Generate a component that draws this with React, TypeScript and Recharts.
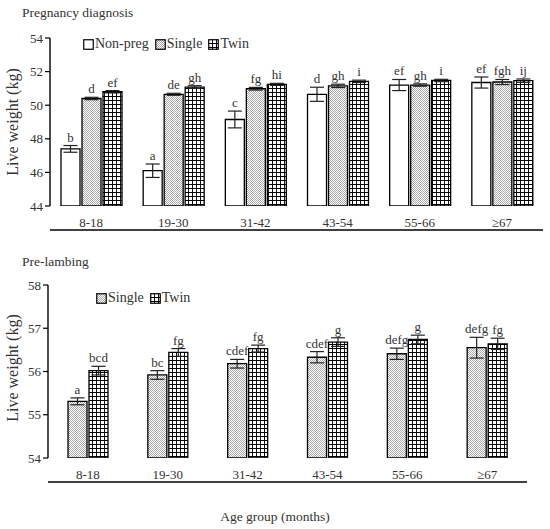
import React from "react";
import { BarChart, Bar, XAxis, YAxis, ErrorBar, LabelList } from "recharts";

// ─── Data ─────────────────────────────────────────────────────────────────────
const ageGroups = ["8-18", "19-30", "31-42", "43-54", "55-66", "≥67"];

// Pregnancy diagnosis
const pdNonPreg = [47.4, 46.1, 49.15, 50.65, 51.2, 51.35];
const pdNonPregSe = [0.2, 0.4, 0.5, 0.42, 0.33, 0.33];
const pdNonPregLetters = ["b", "a", "c", "d", "ef", "ef"];
const pdSingle = [50.4, 50.65, 50.98, 51.15, 51.2, 51.38];
const pdSingleSe = [0.07, 0.06, 0.08, 0.1, 0.07, 0.15];
const pdSingleLetters = ["d", "de", "fg", "gh", "gh", "fgh"];
const pdTwin = [50.8, 51.08, 51.24, 51.42, 51.47, 51.46];
const pdTwinSe = [0.07, 0.08, 0.06, 0.07, 0.07, 0.1];
const pdTwinLetters = ["ef", "gh", "hi", "i", "i", "ij"];
const pdTicks = [44, 46, 48, 50, 52, 54];

// Pre-lambing
const plSingle = [55.31, 55.92, 56.18, 56.33, 56.41, 56.55];
const plSingleSe = [0.08, 0.1, 0.1, 0.13, 0.13, 0.24];
const plSingleLetters = ["a", "bc", "cdef", "cdef", "defg", "defg"];
const plTwin = [56.02, 56.44, 56.53, 56.68, 56.74, 56.64];
const plTwinSe = [0.1, 0.09, 0.08, 0.1, 0.1, 0.13];
const plTwinLetters = ["bcd", "fg", "fg", "g", "g", "fg"];
const plTicks = [54, 55, 56, 57, 58];

const boundaryTicks = [0, 1, 2, 3, 4, 5, 6];

const FONT = "'Liberation Serif', 'Times New Roman', serif";
const TEXT = "#333";

const pdData = ageGroups.map((group, i) => ({
  group,
  nonPreg: pdNonPreg[i],
  nonPregSe: pdNonPregSe[i],
  nonPregLetter: pdNonPregLetters[i],
  single: pdSingle[i],
  singleSe: pdSingleSe[i],
  singleLetter: pdSingleLetters[i],
  twin: pdTwin[i],
  twinSe: pdTwinSe[i],
  twinLetter: pdTwinLetters[i],
}));

const plData = ageGroups.map((group, i) => ({
  group,
  single: plSingle[i],
  singleSe: plSingleSe[i],
  singleLetter: plSingleLetters[i],
  twin: plTwin[i],
  twinSe: plTwinSe[i],
  twinLetter: plTwinLetters[i],
}));

const FILLS: Record<string, string> = {
  nonPreg: "#fff",
  single: "url(#dots)",
  twin: "url(#grid)",
};

// letter sits just above the top of the error bar
function letterContent(values: number[], ses: number[], base: number) {
  return (props: any) => {
    const vb = props.viewBox || props;
    const { x, y, width, height } = vb;
    const i = props.index;
    if (x == null || i == null) return null;
    const pxPerUnit = height / (values[i] - base);
    const top = y - ses[i] * pxPerUnit;
    return (
      <text
        x={x + width / 2}
        y={top - 4}
        textAnchor="middle"
        fontSize={13}
        fontFamily={FONT}
        fill={TEXT}
      >
        {props.value}
      </text>
    );
  };
}

function Patterns() {
  return (
    <svg width={0} height={0} style={{ position: "absolute" }}>
      <defs>
        <pattern id="dots" width={2} height={2} patternUnits="userSpaceOnUse">
          <rect width={2} height={2} fill="#fff" />
          <rect x={0} y={0} width={1} height={1} fill="#a8a8a8" />
          <rect x={1} y={1} width={1} height={1} fill="#a8a8a8" />
        </pattern>
        <pattern id="grid" width={4} height={4} patternUnits="userSpaceOnUse">
          <rect width={4} height={4} fill="#fff" />
          <rect x={0} y={0} width={1} height={4} fill="#111" />
          <rect x={0} y={0} width={4} height={1} fill="#000" />
        </pattern>
      </defs>
    </svg>
  );
}

function LegendRow({ items }: { items: { key: string; label: string }[] }) {
  return (
    <div style={{ display: "flex", alignItems: "center", fontFamily: FONT, fontSize: 14, color: TEXT, lineHeight: "16px" }}>
      {items.map((it) => (
        <div key={it.key} style={{ display: "flex", alignItems: "center", marginRight: 6 }}>
          <svg width={11} height={11} style={{ marginRight: 1 }}>
            <rect x={0.75} y={0.75} width={9.5} height={9.5} fill={FILLS[it.key]} stroke="#000" strokeWidth={1.2} />
          </svg>
          <span>{it.label}</span>
        </div>
      ))}
    </div>
  );
}

type SeriesDef = { key: string; values: number[]; ses: number[] };

function Panel({
  data,
  series,
  domain,
  ticks,
  width,
  height,
  margin,
  yAxisWidth,
}: {
  data: any[];
  series: SeriesDef[];
  domain: [number, number];
  ticks: number[];
  width: number;
  height: number;
  margin: { top: number; right: number; bottom: number; left: number };
  yAxisWidth: number;
}) {
  return (
    <BarChart width={width} height={height} data={data} margin={margin} barSize={19} barGap={2}>
      <XAxis
        xAxisId="ticks"
        type="number"
        domain={[0, 6]}
        ticks={boundaryTicks}
        allowDataOverflow
        height={1}
        tick={false}
        tickSize={5}
        tickLine={{ stroke: "#000", strokeWidth: 1.2 }}
        axisLine={{ stroke: "#000", strokeWidth: 1.4 }}
      />
      <XAxis
        xAxisId="cat"
        dataKey="group"
        height={24}
        axisLine={false}
        tickLine={false}
        tick={{ fontSize: 13, fill: TEXT, fontFamily: FONT }}
        tickMargin={6}
        interval={0}
      />
      <YAxis
        width={yAxisWidth}
        domain={domain}
        ticks={ticks}
        allowDataOverflow
        tickSize={5}
        tick={{ fontSize: 13, fill: TEXT, fontFamily: FONT }}
        tickLine={{ stroke: "#000", strokeWidth: 1.2 }}
        axisLine={{ stroke: "#000", strokeWidth: 1.4 }}
      />
      {series.map((s) => (
        <Bar
          key={s.key}
          xAxisId="cat"
          dataKey={s.key}
          fill={FILLS[s.key]}
          stroke="#000"
          strokeWidth={1.3}
          isAnimationActive={false}
        >
          <ErrorBar dataKey={`${s.key}Se`} width={7} stroke="#222" strokeWidth={1.2} direction="y" />
          <LabelList dataKey={`${s.key}Letter`} content={letterContent(s.values, s.ses, domain[0])} />
        </Bar>
      ))}
    </BarChart>
  );
}

export default function App() {
  const yLabel: React.CSSProperties = {
    position: "absolute",
    fontFamily: FONT,
    fontSize: 16,
    color: TEXT,
    transform: "translate(-50%, -50%) rotate(-90deg)",
    whiteSpace: "nowrap",
  };
  return (
    <div style={{ position: "absolute", left: 0, top: 0, width: 550, height: 529, background: "#fff", overflow: "hidden" }}>
      <Patterns />

      {/* Pregnancy diagnosis */}
      <div style={{ position: "absolute", left: 0, top: 0 }}>
        <Panel
          data={pdData}
          series={[
            { key: "nonPreg", values: pdNonPreg, ses: pdNonPregSe },
            { key: "single", values: pdSingle, ses: pdSingleSe },
            { key: "twin", values: pdTwin, ses: pdTwinSe },
          ]}
          domain={[44, 54]}
          ticks={pdTicks}
          width={550}
          height={232}
          margin={{ top: 38, right: 7, bottom: 1, left: 0 }}
          yAxisWidth={50}
        />
      </div>
      <div style={{ position: "absolute", left: 22, top: 5, fontFamily: FONT, fontSize: 13.5, color: TEXT }}>
        Pregnancy diagnosis
      </div>
      <div style={{ position: "absolute", left: 83, top: 36 }}>
        <LegendRow
          items={[
            { key: "nonPreg", label: "Non-preg" },
            { key: "single", label: "Single" },
            { key: "twin", label: "Twin" },
          ]}
        />
      </div>
      <div style={{ ...yLabel, left: 13, top: 122 }}>Live weight (kg)</div>

      {/* Pre-lambing */}
      <div style={{ position: "absolute", left: 0, top: 240 }}>
        <Panel
          data={plData}
          series={[
            { key: "single", values: plSingle, ses: plSingleSe },
            { key: "twin", values: plTwin, ses: plTwinSe },
          ]}
          domain={[54, 58]}
          ticks={plTicks}
          width={550}
          height={250}
          margin={{ top: 45, right: 23, bottom: 7, left: 0 }}
          yAxisWidth={48}
        />
      </div>
      <div style={{ position: "absolute", left: 22, top: 254, fontFamily: FONT, fontSize: 13.5, color: TEXT }}>
        Pre-lambing
      </div>
      <div style={{ position: "absolute", left: 96, top: 290 }}>
        <LegendRow
          items={[
            { key: "single", label: "Single" },
            { key: "twin", label: "Twin" },
          ]}
        />
      </div>
      <div style={{ ...yLabel, left: 13, top: 368 }}>Live weight (kg)</div>

      <div
        style={{
          position: "absolute",
          left: 275,
          top: 517,
          transform: "translate(-50%, -50%)",
          fontFamily: FONT,
          fontSize: 13.5,
          color: TEXT,
          whiteSpace: "nowrap",
        }}
      >
        Age group (months)
      </div>
    </div>
  );
}
